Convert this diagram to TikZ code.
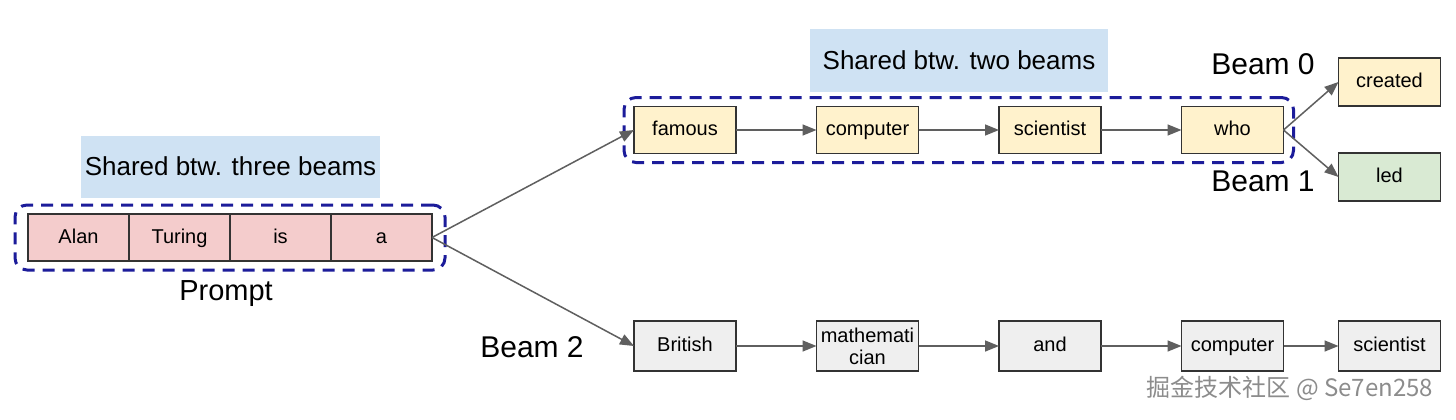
\documentclass[tikz,border=0pt]{standalone}
\usepackage{fontspec}
\setmainfont{Liberation Sans}
\newfontfamily\cjkfont{Noto Sans CJK SC}
\usetikzlibrary{positioning,fit,arrows.meta}
\definecolor{promptred}{HTML}{F4CCCC}
\definecolor{sharedyellow}{HTML}{FFF2CC}
\definecolor{beamgreen}{HTML}{D9EAD3}
\definecolor{beamgray}{HTML}{EFEFEF}
\definecolor{notebg}{HTML}{CFE2F3}
\definecolor{dashblue}{HTML}{1C1C9A}
\definecolor{arrowgray}{HTML}{5F5F5F}
\definecolor{boxline}{HTML}{333333}

\begin{document}
\begin{tikzpicture}[x=1pt,y=1pt,>={Triangle[length=14pt,width=11pt]},node distance=80.5pt,
  word/.style={rectangle,draw=boxline,line width=1.3pt,outer sep=0pt,minimum width=102pt,minimum height=47pt,inner sep=0pt,text height=14.5pt,text depth=3.5pt,font=\fontsize{20}{22}\selectfont},
  cell/.style={word,fill=promptred,minimum width=101pt},
  note/.style={rectangle,fill=notebg,minimum width=298pt,minimum height=62pt,font=\fontsize{26}{30}\selectfont},
  tag/.style={font=\fontsize{30}{34}\selectfont},
  dashbox/.style={draw=dashblue,line width=3pt,dash pattern=on 12pt off 8pt,rounded corners=12pt,inner xsep=10pt,inner ysep=9pt},
  arrow/.style={->,draw=arrowgray,line width=1.5pt}]

  \fill[white] (0,0) rectangle (1456,-420);
  \useasboundingbox (0,0) rectangle (1456,-420);

  % prompt
  \node[cell] (p1) at (78.5,-237.5) {Alan};
  \node[cell] (p2) [right=0pt of p1] {Turing};
  \node[cell] (p3) [right=0pt of p2] {is};
  \node[cell] (p4) [right=0pt of p3] {a};
  \node[dashbox,fit=(p1)(p4),inner xsep=13pt] (pbox) {};
  \node[note] (n3) at (230.5,-166.5) {Shared btw. three beams};
  \node[font=\fontsize{29}{32}\selectfont] (prompt) at (226,-294) {Prompt};

  % shared by beam 0 and beam 1
  \node[word,fill=sharedyellow] (t1) at (685,-130) {famous};
  \node[word,fill=sharedyellow] (t2) [right=of t1] {computer};
  \node[word,fill=sharedyellow] (t3) [right=of t2] {scientist};
  \node[word,fill=sharedyellow] (t4) [right=of t3] {who};
  \node[dashbox,fit=(t1)(t4)] (tbox) {};
  \node[note] (n2) at (959,-60.5) {Shared btw. two beams};
  \node[word,fill=sharedyellow,minimum height=48pt] (c0) [right=55pt of t4,yshift=48pt] {created};
  \node[word,fill=beamgreen,minimum height=48pt] (c1) [right=55pt of t4,yshift=-47pt] {led};
  \node[tag] (beam0) at (1263,-64) {Beam 0};
  \node[tag] (beam1) at (1263,-181) {Beam 1};

  % beam 2
  \node[word,fill=beamgray,minimum height=50pt] (b1) at (685,-346) {British};
  \node[word,fill=beamgray,minimum height=50pt,text height=,text depth=,align=center] (b2) [right=of b1] {mathemati\\cian};
  \node[word,fill=beamgray,minimum height=50pt] (b3) [right=of b2] {and};
  \node[word,fill=beamgray,minimum height=50pt] (b4) [right=of b3] {computer};
  \node[word,fill=beamgray,minimum height=50pt] (b5) [right=55pt of b4] {scientist};
  \node[tag] (beam2) at (532,-347) {Beam 2};

  \path[every edge/.style={arrow}]
    (p4.east) edge (t1.west)
    (p4.east) edge (b1.west)
    (t1) edge (t2)
    (t2) edge (t3)
    (t3) edge (t4)
    (t4.east) edge (c0.west)
    (t4.east) edge (c1.west)
    (b1) edge (b2)
    (b2) edge (b3)
    (b3) edge (b4)
    (b4) edge (b5);

  \node[text=black!45,font=\fontsize{24}{27}\selectfont] (mark) at (1290,-388) {\cjkfont 掘金技术社区 @ Se7en258};
\end{tikzpicture}
\end{document}
